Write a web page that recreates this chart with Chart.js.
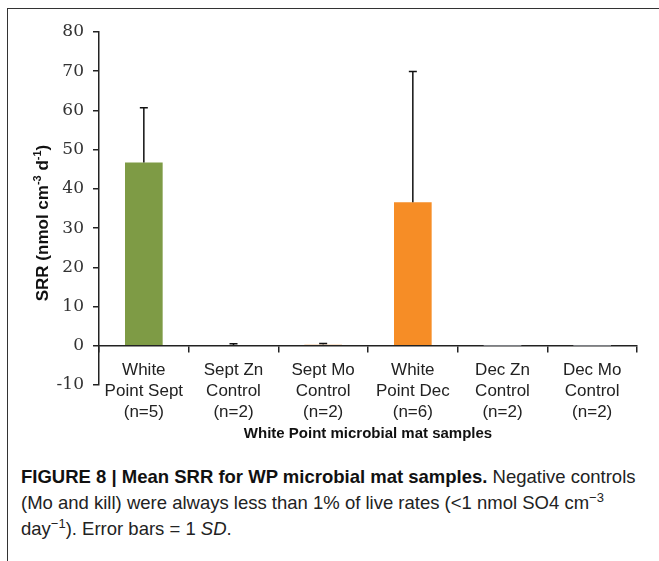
<!DOCTYPE html>
<html>
<head>
<meta charset="utf-8">
<script src="https://cdn.jsdelivr.net/npm/chart.js@4.4.0/dist/chart.umd.min.js"></script>
<style>
  body { margin: 0; background: #fff; width: 659px; height: 561px; overflow: hidden; position: relative; }
  #frame { position: absolute; left: 7px; top: 8px; width: 720px; height: 620px; border: 1px solid #333; }
  #wrap { position: absolute; left: 0; top: 0; width: 659px; height: 450px; }
  #caption { position: absolute; left: 21px; top: 464px; white-space: nowrap; font-family: "Liberation Sans", Arial, sans-serif; font-size: 18.5px; line-height: 26px; color: #222; }
  #caption b { color: #111; }
  sup { font-size: 13px; line-height: 0; vertical-align: 7px; }
</style>
</head>
<body>
<div id="frame"></div>
<div id="wrap"><canvas id="grafico"></canvas></div>
<div id="caption"><b>FIGURE 8 | Mean SRR for WP microbial mat samples.</b> Negative controls<br>(Mo and kill) were always less than 1% of live rates (&lt;1 nmol SO4 cm<sup>&minus;3</sup><br>day<sup>&minus;1</sup>). Error bars = 1 <i>SD</i>.</div>
<script>
// datos del grafico
const categorias = [
  ['White', 'Point Sept', '(n=5)'],
  ['Sept Zn', 'Control', '(n=2)'],
  ['Sept Mo', 'Control', '(n=2)'],
  ['White', 'Point Dec', '(n=6)'],
  ['Dec Zn', 'Control', '(n=2)'],
  ['Dec Mo', 'Control', '(n=2)']
];
const srrMedia = [46.7, 0.2, 0.3, 36.6, 0.05, 0.05];
const srrSD = [14.0, 0.3, 0.3, 33.3, 0, 0];
const colores = ['#7e9b45', '#cdd3dd', '#f6c9a0', '#f68d26', '#d4dae3', '#d4dae3'];
const yMin = -10, yMax = 80, yPaso = 10;

// barras de error (solo la mitad superior)
const errorBars = {
  id: 'errorBars',
  afterDatasetsDraw(chart) {
    const ctx = chart.ctx;
    const y = chart.scales.y;
    const meta = chart.getDatasetMeta(0);
    ctx.save();
    ctx.strokeStyle = '#111';
    ctx.lineWidth = 1.5;
    meta.data.forEach((bar, i) => {
      if (!srrSD[i]) return;
      const top = y.getPixelForValue(srrMedia[i] + srrSD[i]);
      ctx.beginPath();
      ctx.moveTo(bar.x, bar.y);
      ctx.lineTo(bar.x, top);
      ctx.moveTo(bar.x - 4, top);
      ctx.lineTo(bar.x + 4, top);
      ctx.stroke();
    });
    ctx.restore();
  }
};

// titulo del eje y con superindices
const tituloY = {
  id: 'tituloY',
  afterDraw(chart) {
    const ctx = chart.ctx;
    const partes = [
      ['SRR (nmol cm', 17, 0],
      ['-3', 11, -7],
      [' d', 17, 0],
      ['-1', 11, -7],
      [')', 17, 0]
    ];
    ctx.save();
    let total = 0;
    partes.forEach(p => {
      ctx.font = 'bold ' + p[1] + 'px "Liberation Sans", Arial, sans-serif';
      total += ctx.measureText(p[0]).width;
    });
    ctx.translate(48, 223);
    ctx.rotate(-Math.PI / 2);
    ctx.fillStyle = '#111';
    ctx.textBaseline = 'alphabetic';
    let x = -total / 2;
    partes.forEach(p => {
      ctx.font = 'bold ' + p[1] + 'px "Liberation Sans", Arial, sans-serif';
      ctx.fillText(p[0], x, p[2]);
      x += ctx.measureText(p[0]).width;
    });
    ctx.restore();
  }
};

const ctx = document.getElementById('grafico').getContext('2d');
new Chart(ctx, {
  type: 'bar',
  data: {
    labels: categorias,
    datasets: [{
      data: srrMedia,
      backgroundColor: colores,
      borderWidth: 0,
      barPercentage: 0.6,
      categoryPercentage: 0.7
    }]
  },
  options: {
    responsive: true,
    maintainAspectRatio: false,
    animation: false,
    layout: { padding: { left: 0, right: 22, top: 32, bottom: 65 } },
    scales: {
      x: {
        position: { y: 0 },
        grid: { drawOnChartArea: false, tickLength: 6, color: '#222', lineWidth: 1.5 },
        border: { color: '#222', width: 1.5 },
        ticks: {
          color: '#222',
          font: { family: '"Liberation Sans", Arial, sans-serif', size: 17, lineHeight: 1.24 },
          padding: 8,
          maxRotation: 0,
          autoSkip: false
        },
        title: {
          display: true,
          text: 'White Point microbial mat samples',
          color: '#111',
          font: { family: '"Liberation Sans", Arial, sans-serif', size: 15, weight: 'bold' },
          padding: { top: -6, bottom: 0 }
        }
      },
      y: {
        min: yMin,
        max: yMax,
        afterFit(scale) { scale.width = 99; },
        grid: { drawOnChartArea: false, tickLength: 6, color: '#222', lineWidth: 1.5 },
        border: { color: '#222', width: 1.5 },
        ticks: {
          stepSize: yPaso,
          color: '#333',
          padding: 9,
          font: { family: '"DejaVu Serif", serif', size: 17 }
        }
      }
    },
    plugins: {
      legend: { display: false },
      tooltip: { enabled: false }
    }
  },
  plugins: [errorBars, tituloY]
});
</script>
</body>
</html>
